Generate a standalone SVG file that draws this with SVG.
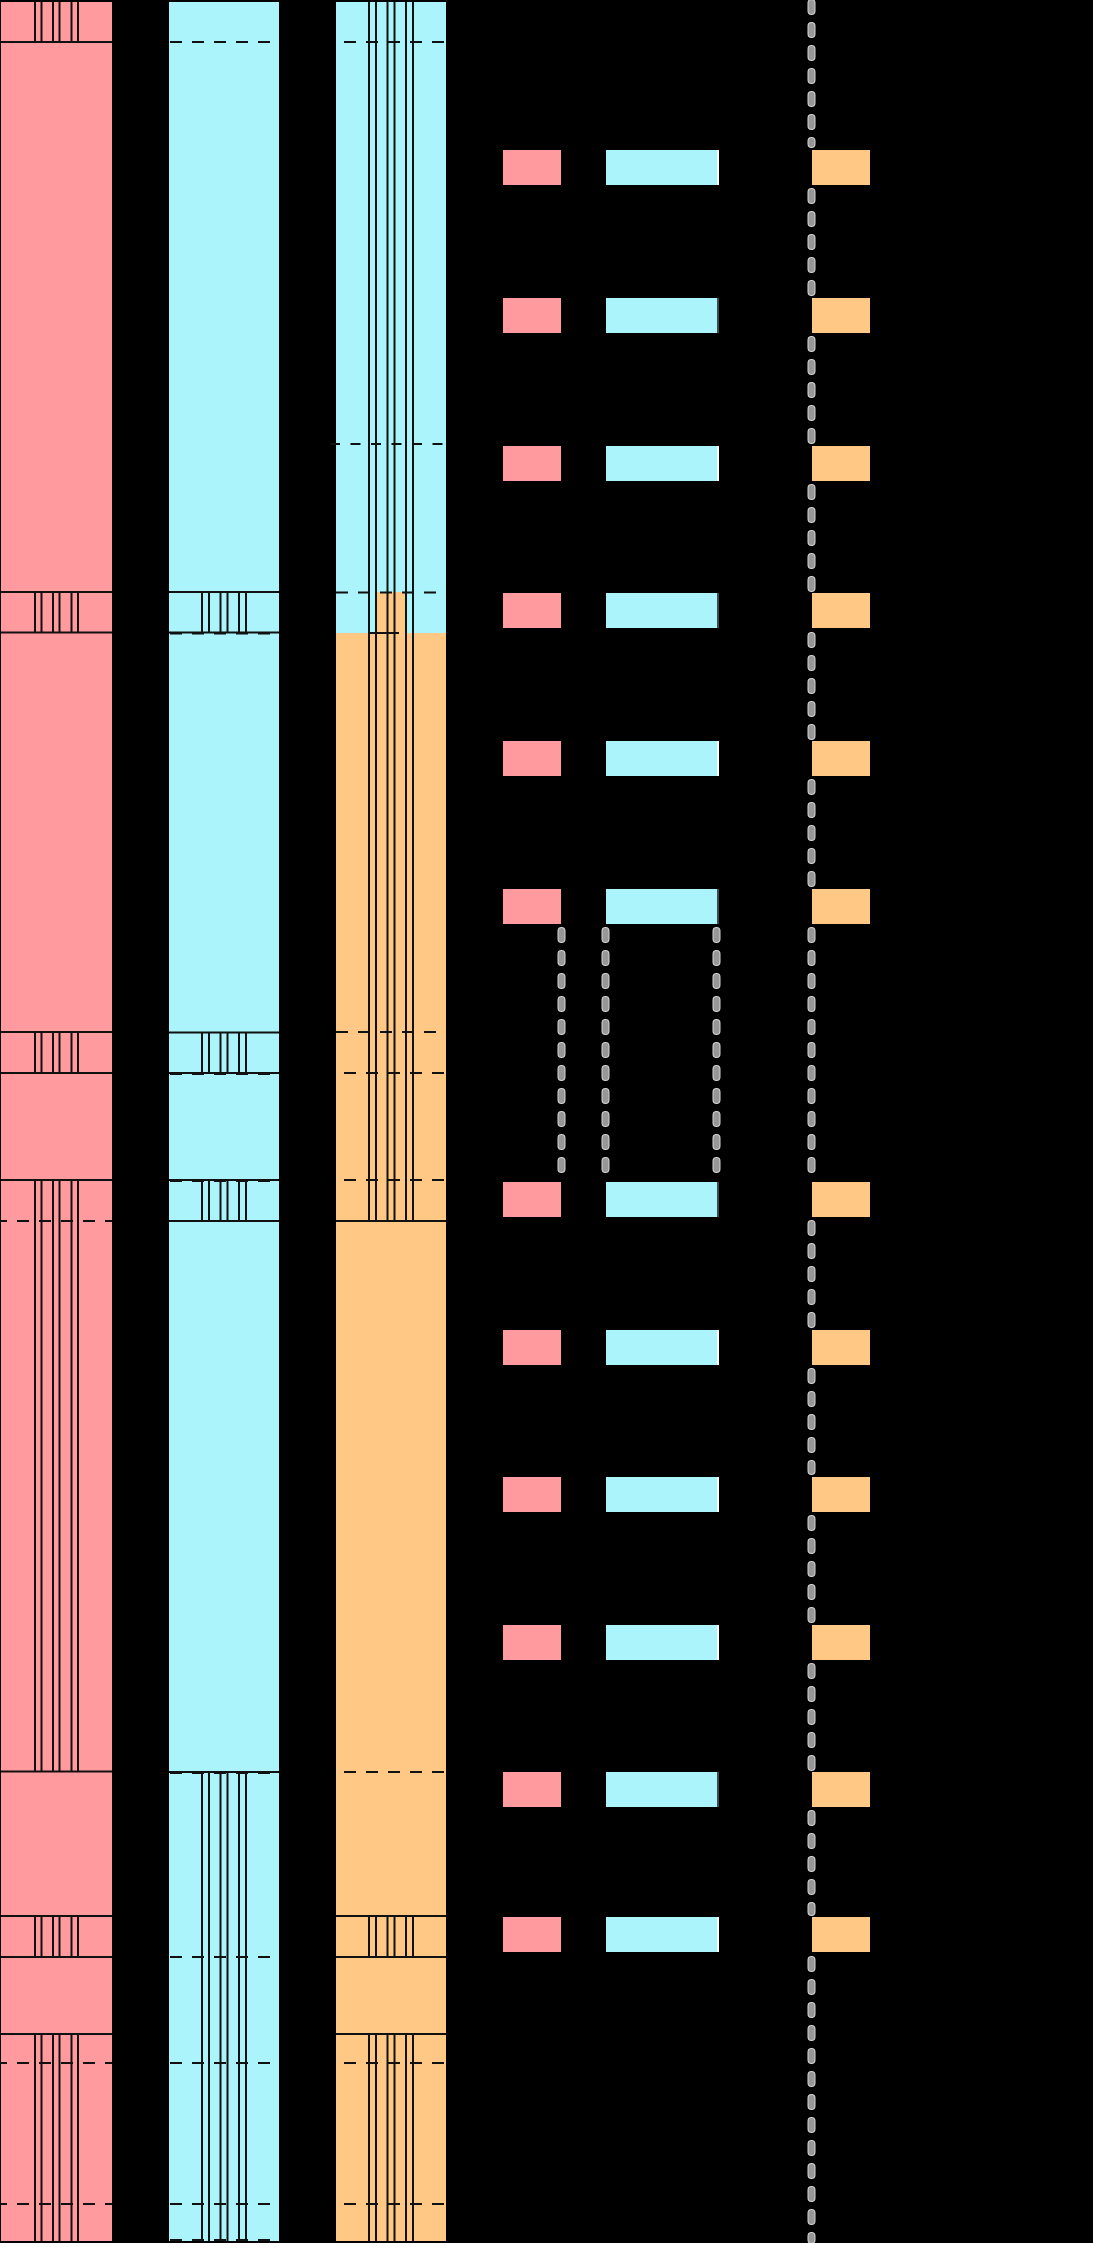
<svg xmlns="http://www.w3.org/2000/svg" width="1093" height="2243" viewBox="0 0 1093 2243">
<style>
.bg{fill:#000}
.r{fill:#FF9B9F}
.c{fill:#ABF4FC}
.o{fill:#FFC985}
.s{stroke:#111;stroke-width:2;fill:none}
.d{stroke:#111;stroke-width:2;fill:none;stroke-dasharray:12 10}
.d2{stroke:#111;stroke-width:2;fill:none;stroke-dasharray:10 10.5}
.ew{stroke:#fff;stroke-width:2}
.ek{stroke:#3c4b4f;stroke-width:2}
.pw{stroke:#d4d4d4;stroke-width:8;stroke-dasharray:8 15;stroke-linecap:round;fill:none}
.pg{stroke:#979797;stroke-width:6;stroke-dasharray:8 15;stroke-linecap:round;fill:none}
</style>
<rect class="bg" x="0" y="0" width="1093" height="2243"/>

<g id="column-1">
<rect class="r" x="1" y="2" width="111" height="2239"/>
<path class="s" d="M1 42H112M1 592H112M1 632.5H112M1 1032H112M1 1073H112M1 1180H112M1 1771.5H112M1 1916H112M1 1957H112M1 2034H112"/>
<path class="d" d="M-5 1221H112M-5 2063H112M-5 2204H112"/>
<path class="s" d="M35 2V42M41.5 2V42M53 2V42M59.5 2V42M71.5 2V42M78 2V42
M35 592V632.5M41.5 592V632.5M53 592V632.5M59.5 592V632.5M71.5 592V632.5M78 592V632.5
M35 1032V1073M41.5 1032V1073M53 1032V1073M59.5 1032V1073M71.5 1032V1073M78 1032V1073
M35 1180V1771.5M41.5 1180V1771.5M53 1180V1771.5M59.5 1180V1771.5M71.5 1180V1771.5M78 1180V1771.5
M35 1916V1957M41.5 1916V1957M53 1916V1957M59.5 1916V1957M71.5 1916V1957M78 1916V1957
M35 2034V2241M41.5 2034V2241M53 2034V2241M59.5 2034V2241M71.5 2034V2241M78 2034V2241"/>
</g>

<g id="column-2">
<rect class="c" x="169" y="2" width="110" height="2239"/>
<path class="s" d="M169 592H279M169 632.5H279M169 1032.5H279M169 1073H279M169 1180H279M169 1221H279M169 1772H279"/>
<path class="d" d="M170 42H279M170 633.5H279M170 1074H279M170 1181H279M170 1773H279M170 1957H279M170 2063H279M170 2204H279M170 2240H279"/>
<path class="s" d="M202 592V632.5M209 592V632.5M220.5 592V632.5M227.5 592V632.5M239 592V632.5M246 592V632.5
M202 1032.5V1073M209 1032.5V1073M220.5 1032.5V1073M227.5 1032.5V1073M239 1032.5V1073M246 1032.5V1073
M202 1180V1221M209 1180V1221M220.5 1180V1221M227.5 1180V1221M239 1180V1221M246 1180V1221
M202 1772V2241M209 1772V2241M220.5 1772V2241M227.5 1772V2241M239 1772V2241M246 1772V2241"/>
</g>

<g id="column-3">
<rect class="c" x="336" y="2" width="110" height="631"/>
<rect class="o" x="336" y="633" width="110" height="1608"/>
<rect class="o" x="376" y="592" width="30" height="41"/>
<path class="s" d="M336 1221H446M336 1916H446M336 1957H446M336 2034H446M369 633H399"/>
<path class="d" d="M344 42H446M336 592.5H446M336 1032H446M344 1073H446M344 1180H446M344 1772H446M344 2063H446M344 2204H446"/>
<path class="d2" d="M330 444H446"/>
<path class="s" d="M369 2V1221M376 2V1221M387.5 2V1221M394.5 2V1221M406 2V1221M413 2V1221
M369 1916V1957M376 1916V1957M387.5 1916V1957M394.5 1916V1957M406 1916V1957M413 1916V1957
M369 2034V2241M376 2034V2241M387.5 2034V2241M394.5 2034V2241M406 2034V2241M413 2034V2241"/>
</g>

<g id="connectors">
<path class="pw" d="M811.5 3V144M811.5 192V292M811.5 340V440M811.5 488V588M811.5 636V736M811.5 783V884M811.5 931V1176M811.5 1224V1324M811.5 1372V1471M811.5 1519V1620M811.5 1667V1767M811.5 1814V1912M811.5 1960V2240"/>
<path class="pg" d="M811.5 3V144M811.5 192V292M811.5 340V440M811.5 488V588M811.5 636V736M811.5 783V884M811.5 931V1176M811.5 1224V1324M811.5 1372V1471M811.5 1519V1620M811.5 1667V1767M811.5 1814V1912M811.5 1960V2240"/>
<path class="pw" d="M561.5 931V1176M605.5 931V1176M716.5 931V1176"/>
<path class="pg" d="M561.5 931V1176M605.5 931V1176M716.5 931V1176"/>
</g>

<g id="row-1"><rect class="r" x="503" y="150" width="58" height="35"/><rect class="c" x="606" y="150" width="111" height="35"/><line class="ew" x1="718" y1="150" x2="718" y2="185"/><rect class="o" x="812" y="150" width="58" height="35"/></g>
<g id="row-2"><rect class="r" x="503" y="298" width="58" height="35"/><rect class="c" x="606" y="298" width="111" height="35"/><line class="ek" x1="718" y1="298" x2="718" y2="333"/><rect class="o" x="812" y="298" width="58" height="35"/></g>
<g id="row-3"><rect class="r" x="503" y="446" width="58" height="35"/><rect class="c" x="606" y="446" width="111" height="35"/><line class="ew" x1="718" y1="446" x2="718" y2="481"/><rect class="o" x="812" y="446" width="58" height="35"/></g>
<g id="row-4"><rect class="r" x="503" y="593" width="58" height="35"/><rect class="c" x="606" y="593" width="111" height="35"/><line class="ek" x1="718" y1="593" x2="718" y2="628"/><rect class="o" x="812" y="593" width="58" height="35"/></g>
<g id="row-5"><rect class="r" x="503" y="741" width="58" height="35"/><rect class="c" x="606" y="741" width="111" height="35"/><line class="ew" x1="718" y1="741" x2="718" y2="776"/><rect class="o" x="812" y="741" width="58" height="35"/></g>
<g id="row-6"><rect class="r" x="503" y="889" width="58" height="35"/><rect class="c" x="606" y="889" width="111" height="35"/><line class="ek" x1="718" y1="889" x2="718" y2="924"/><rect class="o" x="812" y="889" width="58" height="35"/></g>
<g id="row-7"><rect class="r" x="503" y="1182" width="58" height="35"/><rect class="c" x="606" y="1182" width="111" height="35"/><line class="ek" x1="718" y1="1182" x2="718" y2="1217"/><rect class="o" x="812" y="1182" width="58" height="35"/></g>
<g id="row-8"><rect class="r" x="503" y="1330" width="58" height="35"/><rect class="c" x="606" y="1330" width="111" height="35"/><line class="ew" x1="718" y1="1330" x2="718" y2="1365"/><rect class="o" x="812" y="1330" width="58" height="35"/></g>
<g id="row-9"><rect class="r" x="503" y="1477" width="58" height="35"/><rect class="c" x="606" y="1477" width="111" height="35"/><line class="ew" x1="718" y1="1477" x2="718" y2="1512"/><rect class="o" x="812" y="1477" width="58" height="35"/></g>
<g id="row-10"><rect class="r" x="503" y="1625" width="58" height="35"/><rect class="c" x="606" y="1625" width="111" height="35"/><line class="ew" x1="718" y1="1625" x2="718" y2="1660"/><rect class="o" x="812" y="1625" width="58" height="35"/></g>
<g id="row-11"><rect class="r" x="503" y="1772" width="58" height="35"/><rect class="c" x="606" y="1772" width="111" height="35"/><line class="ek" x1="718" y1="1772" x2="718" y2="1807"/><rect class="o" x="812" y="1772" width="58" height="35"/></g>
<g id="row-12"><rect class="r" x="503" y="1917" width="58" height="35"/><rect class="c" x="606" y="1917" width="111" height="35"/><line class="ew" x1="718" y1="1917" x2="718" y2="1952"/><rect class="o" x="812" y="1917" width="58" height="35"/></g>
</svg>
